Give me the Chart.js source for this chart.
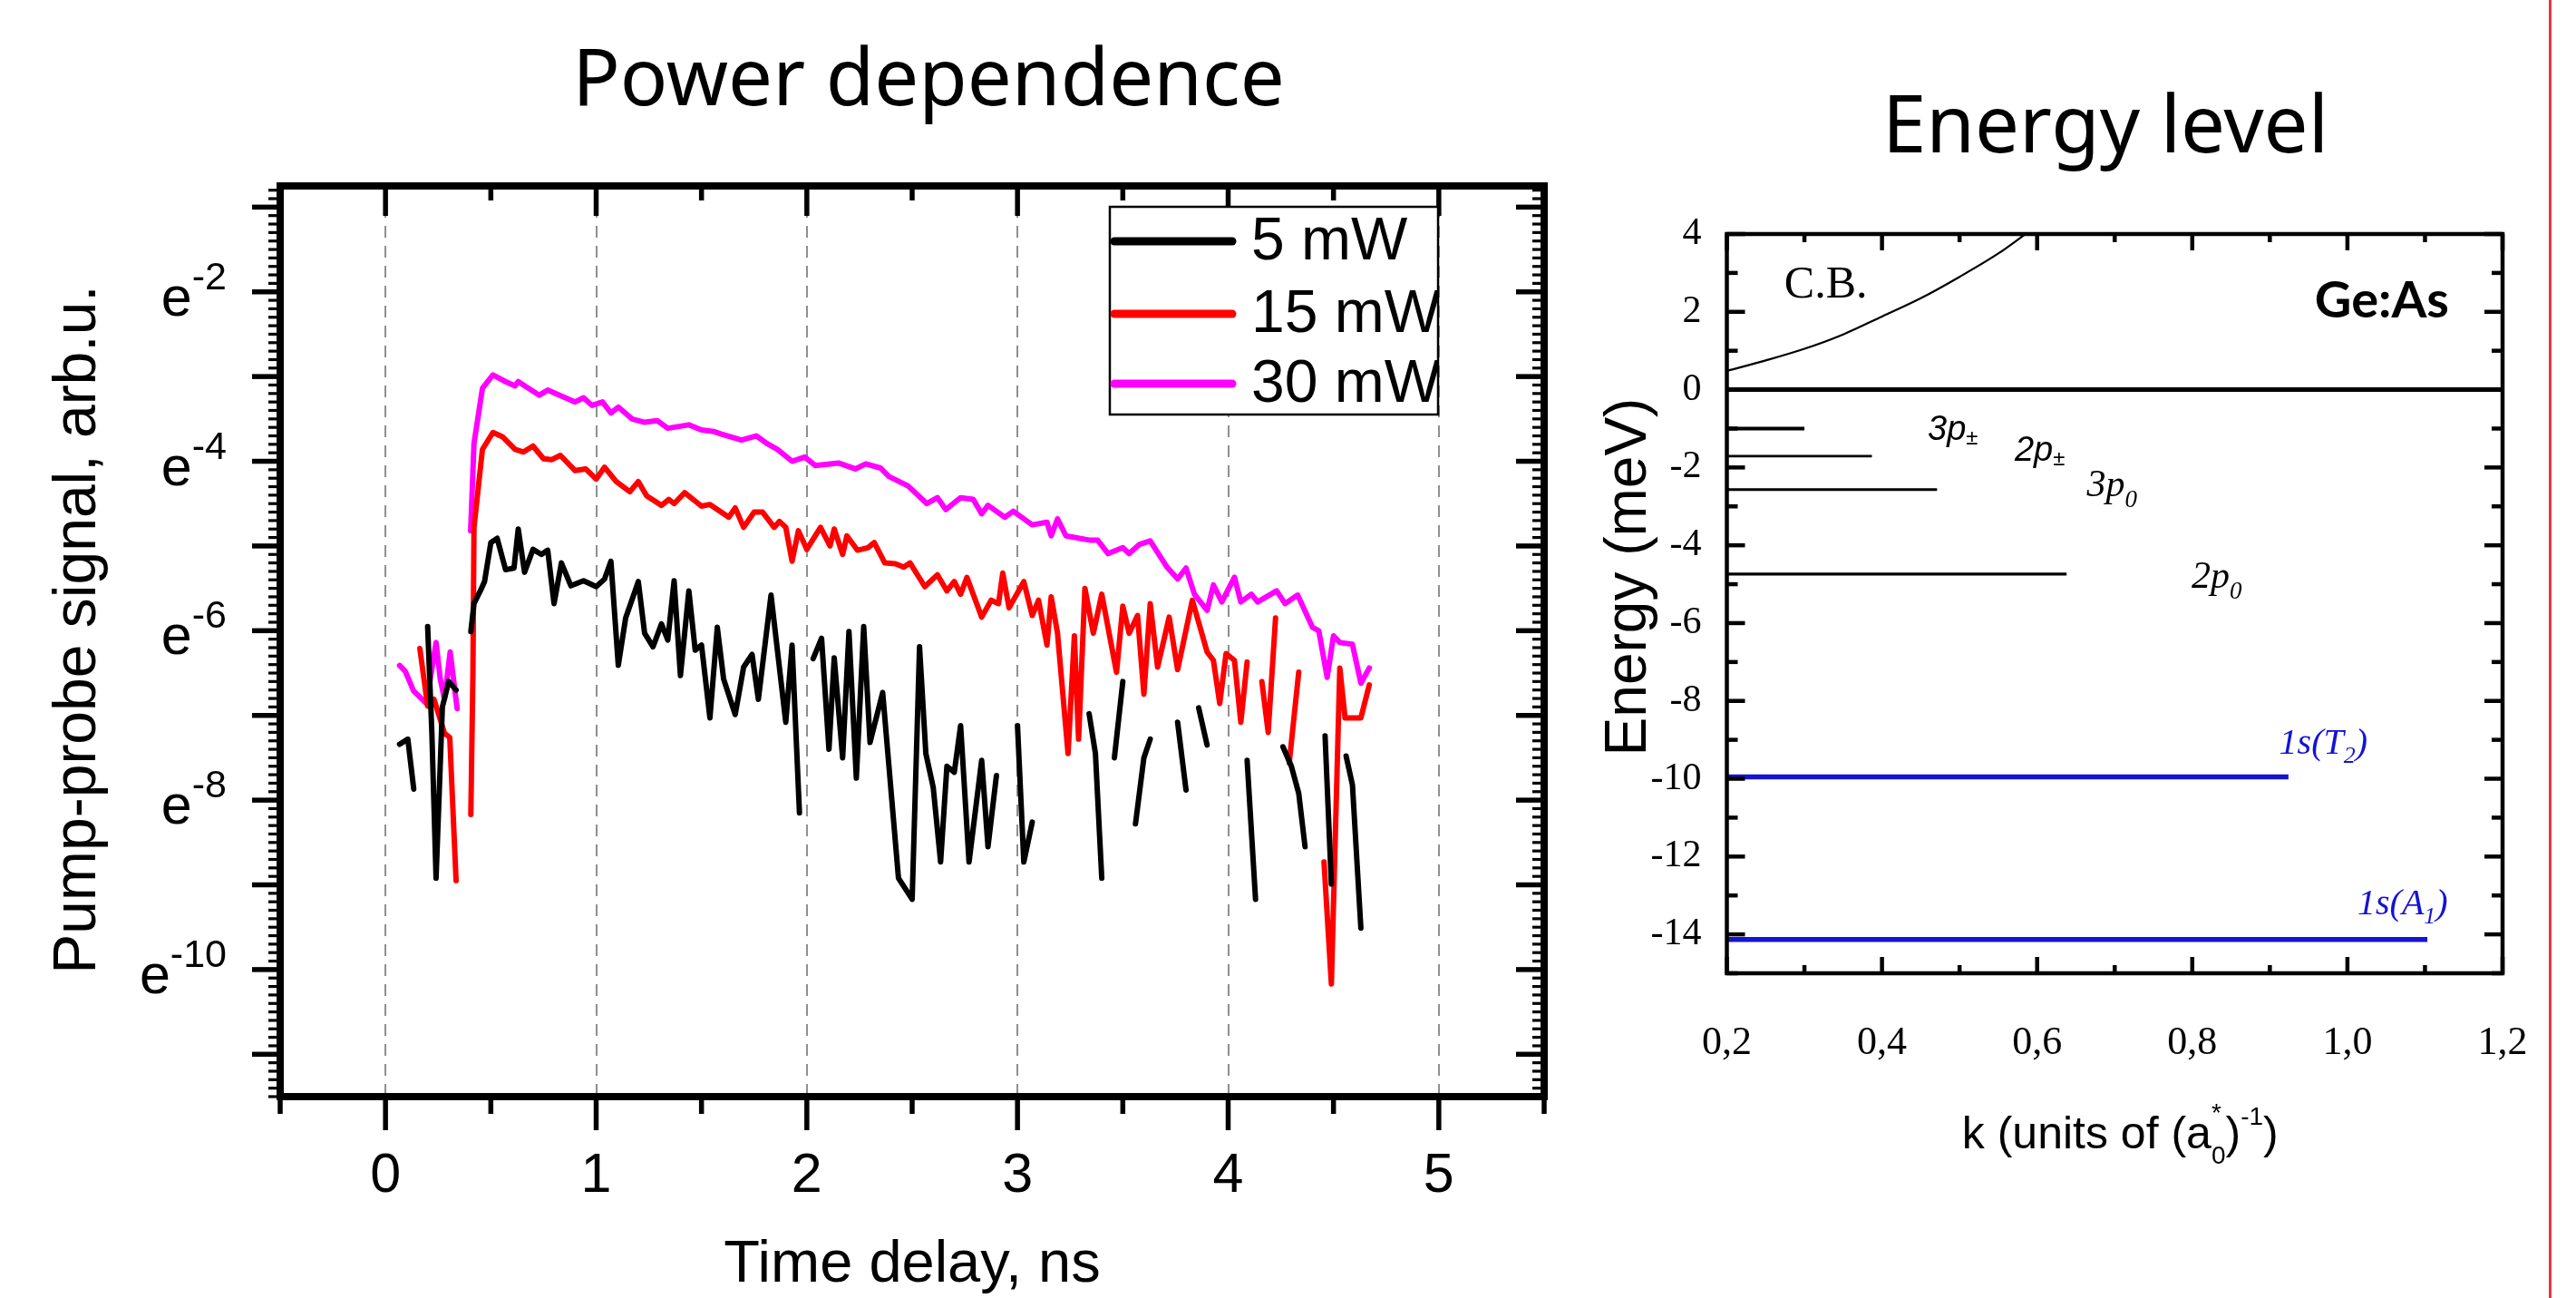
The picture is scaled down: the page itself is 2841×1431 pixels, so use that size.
<!DOCTYPE html>
<html>
<head>
<meta charset="utf-8">
<title>Power dependence / Energy level</title>
<script src="https://cdn.jsdelivr.net/npm/chart.js@4.4.1/dist/chart.umd.min.js"></script>
<style>
  html, body { margin: 0; padding: 0; background: #fff; }
  body { width: 2841px; height: 1431px; position: relative; overflow: hidden; }
  .ttl { position: absolute; font-family: "Noto Sans", "Open Sans", sans-serif; color: #000;
         white-space: nowrap; line-height: 1; transform: translateX(-50%); }
  #ppWrap { position: absolute; left: 0; top: 0; }
  #elWrap { position: absolute; left: 1760px; top: 0; }
  #edge { position: absolute; left: 2811px; top: 0; width: 3px; height: 1431px; background: #e8364a; }
</style>
</head>
<body>
<div class="ttl" style="left:1024px; top:39px; font-size:87px;">Power dependence</div>
<div class="ttl" style="left:2322px; top:91px; font-size:87px;">Energy level</div>
<div id="ppWrap"><canvas id="pp" width="1760" height="1431"></canvas></div>
<div id="elWrap"><canvas id="el" width="1052" height="1431"></canvas></div>
<div id="edge"></div>
<script>
// ---------- power dependence: ln(signal) vs time delay (ns), null = gap ----------
const powerLabels = ['5 mW', '15 mW', '30 mW'];
const timeTicks = [0, 1, 2, 3, 4, 5];
const lnTicks = [-10, -8, -6, -4, -2];

const t5 = [0.067, 0.106, 0.134, 0.17,
  0.20, 0.22, 0.24, 0.27, 0.30, 0.335, 0.37,
  0.405, 0.42, 0.45, 0.47, 0.50, 0.53, 0.57, 0.61, 0.63, 0.66, 0.70, 0.74, 0.77, 0.80, 0.835,
  0.88, 0.94, 1.0, 1.04, 1.07, 1.105, 1.14, 1.20, 1.23, 1.27, 1.31, 1.34, 1.37, 1.40, 1.44,
  1.47, 1.50, 1.54, 1.575, 1.605, 1.66, 1.70, 1.74, 1.77, 1.83, 1.90, 1.93, 1.965, 2.0,
  2.03, 2.07, 2.105, 2.13, 2.17, 2.20, 2.235, 2.27, 2.30, 2.36, 2.435, 2.50, 2.535, 2.565,
  2.60, 2.635, 2.665, 2.70, 2.73, 2.77, 2.83, 2.86, 2.90, 2.95,
  3.0, 3.03, 3.07, 3.2,
  3.34, 3.37, 3.40, 3.43,
  3.46, 3.50, 3.53,
  3.56, 3.60, 3.63, 3.7,
  3.76, 3.80, 3.83,
  3.86, 3.90, 4.0,
  4.09, 4.13, 4.2,
  4.26, 4.30, 4.335, 4.365, 4.41,
  4.46, 4.49, 4.52,
  4.56, 4.59, 4.63];
const ln5 = [-7.34, -7.28, -7.87, null,
  -5.95, -7.2, -8.92, -6.9, -6.6, -6.7, null,
  -6.01, -5.68, -5.53, -5.42, -4.96, -4.91, -5.28, -5.26, -4.80, -5.31, -5.04, -5.10, -5.05, -5.68, -5.20,
  -5.47, -5.41, -5.48, -5.39, -5.18, -6.41, -5.85, -5.42, -6.03, -6.19, -5.92, -6.11, -5.41, -6.53, -5.53,
  -6.23, -6.17, -7.03, -5.96, -6.57, -6.99, -6.43, -6.28, -6.81, -5.58, -7.08, -6.17, -8.15, null,
  -6.33, -6.09, -7.40, -6.32, -7.50, -6.01, -7.74, -5.95, -7.32, -6.73, -8.92, -9.17, -6.19, -7.45,
  -7.85, -8.73, -7.60, -7.67, -7.12, -8.73, -7.53, -8.55, -7.71, null,
  -7.12, -8.73, -8.26, null,
  -6.98, -7.45, -8.92, null,
  -7.50, -6.60, null,
  -8.28, -7.50, -7.28, null,
  -7.08, -7.88, null,
  -6.91, -7.35, null,
  -7.53, -9.17, null,
  -7.37, -7.60, -7.92, -8.55, null,
  -7.24, -8.99, null,
  -7.48, -7.82, -9.51];

const t15 = [0.163, 0.20, 0.23, 0.28, 0.305, 0.335, 0.37,
  0.405, 0.415, 0.42, 0.46, 0.51, 0.555, 0.615, 0.655, 0.70, 0.75, 0.79, 0.83, 0.90, 0.95, 1.0,
  1.04, 1.095, 1.16, 1.20, 1.24, 1.31, 1.345, 1.37, 1.42, 1.50, 1.54, 1.63, 1.66, 1.70, 1.75,
  1.79, 1.845, 1.87, 1.90, 1.93, 1.96, 2.0, 2.065, 2.11, 2.13, 2.17, 2.19, 2.24, 2.29, 2.32,
  2.37, 2.42, 2.46, 2.49, 2.56, 2.62, 2.665, 2.70, 2.73, 2.76, 2.83, 2.875, 2.91, 2.93, 2.96,
  3.03, 3.07, 3.10, 3.14, 3.16, 3.19, 3.24, 3.27, 3.29, 3.32, 3.36, 3.40, 3.47, 3.50, 3.53,
  3.57, 3.60, 3.63, 3.665, 3.72, 3.76, 3.83, 3.90, 3.93, 3.96, 3.99, 4.03, 4.06, 4.09, 4.12,
  4.16, 4.19, 4.225, 4.26,
  4.29, 4.335, 4.40,
  4.455, 4.49, 4.53, 4.555, 4.63, 4.67];
const ln15 = [-6.21, -6.89, -6.81, -7.21, -7.26, -8.95, null,
  -8.17, -6.5, -4.78, -3.86, -3.66, -3.71, -3.86, -3.89, -3.82, -3.97, -3.98, -3.93, -4.11, -4.09, -4.21,
  -4.07, -4.24, -4.36, -4.24, -4.41, -4.52, -4.45, -4.50, -4.37, -4.53, -4.51, -4.66, -4.55, -4.78, -4.60,
  -4.60, -4.78, -4.71, -4.78, -5.18, -4.82, -5.04, -4.78, -5.0, -4.80, -5.10, -4.88, -5.05, -5.02, -4.96,
  -5.20, -5.21, -5.25, -5.20, -5.48, -5.34, -5.53, -5.42, -5.57, -5.37, -5.84, -5.64, -5.68, -5.32, -5.73,
  -5.42, -5.82, -5.64, -6.17, -5.60, -6.03, -7.45, -6.06, -7.28, -5.50, -6.03, -5.57, -6.49, -5.71, -6.03,
  -5.82, -6.75, -5.68, -6.43, -5.84, -6.46, -5.64, -6.25, -6.35, -6.86, -6.27, -6.35, -7.08, -6.37, null,
  -6.6, -7.2, -5.85, null,
  -7.56, -6.49, null,
  -8.73, -10.17, -6.44, -7.03, -7.03, -6.64];

const t30 = [0.067, 0.094, 0.133, 0.194, 0.24, 0.26, 0.28, 0.307, 0.34, 0.37,
  0.404, 0.42, 0.46, 0.51, 0.57, 0.615, 0.63, 0.73, 0.77, 0.90, 0.94, 0.98, 1.03, 1.07, 1.105,
  1.17, 1.23, 1.29, 1.34, 1.44, 1.50, 1.56, 1.595, 1.69, 1.76, 1.81, 1.86, 1.93, 1.99, 2.04,
  2.15, 2.23, 2.28, 2.35, 2.39, 2.48, 2.57, 2.62, 2.66, 2.73, 2.79, 2.83, 2.86, 2.94, 2.98,
  3.07, 3.14, 3.16, 3.19, 3.23, 3.34, 3.38, 3.43, 3.50, 3.53, 3.58, 3.63, 3.71, 3.76, 3.80,
  3.84, 3.90, 3.93, 3.97, 4.03, 4.06, 4.11, 4.14, 4.23, 4.27, 4.33, 4.40, 4.43, 4.47, 4.50,
  4.53, 4.59, 4.63, 4.67];
const ln30 = [-6.41, -6.48, -6.71, -6.86, -6.14, -6.57, -6.81, -6.25, -6.92, null,
  -4.82, -3.79, -3.14, -2.98, -3.06, -3.11, -3.06, -3.22, -3.16, -3.30, -3.25, -3.34, -3.30, -3.43, -3.36,
  -3.50, -3.54, -3.52, -3.61, -3.57, -3.63, -3.65, -3.68, -3.75, -3.70, -3.79, -3.86, -4.00, -3.95, -4.05,
  -4.02, -4.09, -4.03, -4.08, -4.18, -4.29, -4.50, -4.43, -4.57, -4.43, -4.45, -4.62, -4.52, -4.66, -4.59,
  -4.75, -4.72, -4.88, -4.68, -4.88, -4.93, -4.93, -5.09, -5.02, -5.09, -4.98, -4.94, -5.25, -5.39, -5.26,
  -5.57, -5.76, -5.46, -5.66, -5.37, -5.66, -5.57, -5.66, -5.53, -5.68, -5.58, -5.96, -6.0, -6.55, -6.06,
  -6.14, -6.16, -6.62, -6.44];

// ---------- energy levels of Ge:As ----------
const kTicks = [0.2, 0.4, 0.6, 0.8, 1.0, 1.2];
const eTicks = [-14, -12, -10, -8, -6, -4, -2, 0, 2, 4];
const cbK = [0.2, 0.25, 0.3, 0.35, 0.4, 0.45, 0.5, 0.55, 0.585];
const cbE = [0.48, 0.75, 1.05, 1.42, 1.88, 2.35, 2.9, 3.5, 4.0];
const levelNames = ['0', '3p±', '2p±', '3p0', '2p0', '1s(T2)', '1s(A1)'];
const levelE = [0, -1.0, -1.71, -2.57, -4.74, -9.95, -14.13];
const levelKEnd = [1.2, 0.3, 0.387, 0.471, 0.638, 0.924, 1.103];

const SANS = '"Liberation Sans", Arial, sans-serif';
const SERIF = '"Liberation Serif", "Times New Roman", serif';
const pts = (xs, ys) => xs.map((x, i) => ({ x, y: ys[i] }));

// draws a run of text pieces (sub/superscripts), pieces with "over" share the previous x
function richText(ctx, x, y, runs, align) {
  const widths = runs.map(r => { ctx.font = r.f; return ctx.measureText(r.t).width; });
  let total = 0;
  runs.forEach((r, i) => { if (!r.over) total += widths[i]; });
  let cx = align === 'center' ? x - total / 2 : align === 'right' ? x - total : x;
  let lastX = cx;
  ctx.textAlign = 'left';
  ctx.textBaseline = 'alphabetic';
  runs.forEach((r, i) => {
    ctx.font = r.f;
    if (r.over) { ctx.fillText(r.t, lastX, y + (r.dy || 0)); return; }
    lastX = cx;
    ctx.fillText(r.t, cx, y + (r.dy || 0));
    cx += widths[i];
  });
}

function tick(ctx, x1, y1, x2, y2) {
  ctx.beginPath(); ctx.moveTo(x1, y1); ctx.lineTo(x2, y2); ctx.stroke();
}

function vTitle(ctx, text, font, x, y) {
  ctx.save();
  ctx.translate(x, y);
  ctx.rotate(-Math.PI / 2);
  ctx.font = font;
  ctx.fillStyle = '#000';
  ctx.textAlign = 'center';
  ctx.textBaseline = 'alphabetic';
  ctx.fillText(text, 0, 0);
  ctx.restore();
}

// keep the plot area where the layout padding puts it
const fixBox = (size, horizontal) => s => {
  if (horizontal) s.height = size; else s.width = size;
  s.paddingLeft = 0; s.paddingRight = 0; s.paddingTop = 0; s.paddingBottom = 0;
};

// frame + ticks for the pump-probe plot
const ppFrame = {
  id: 'ppFrame',
  afterDatasetsDraw(chart) {
    const { ctx, chartArea: a, scales: { x, y } } = chart;
    ctx.save();
    ctx.strokeStyle = '#000';
    for (let v = -0.5; v <= 5.5; v += 0.5) {
      const px = x.getPixelForValue(v);
      const major = Math.abs(v - Math.round(v)) < 1e-6;
      ctx.lineWidth = 5.5;
      tick(ctx, px, a.bottom, px, a.bottom + (major ? 37 : 19));
      tick(ctx, px, a.top, px, a.top + (major ? 33 : 16));
    }
    for (let i = -115; i <= -8; i++) {
      const v = i / 10;
      const py = y.getPixelForValue(v);
      const major = i % 10 === 0;
      ctx.lineWidth = major ? 5.5 : 3.2;
      tick(ctx, a.left, py, a.left - (major ? 31 : 13), py);
      tick(ctx, a.right, py, a.right - (major ? 31 : 13), py);
    }
    ctx.lineWidth = 8;
    ctx.strokeRect(a.left, a.top, a.right - a.left, a.bottom - a.top);
    ctx.restore();
  },
  afterDraw(chart) {
    const { ctx, chartArea: a, scales: { y } } = chart;
    ctx.save();
    ctx.fillStyle = '#000';
    // y tick labels e^n
    lnTicks.forEach(v => {
      const py = y.getPixelForValue(v);
      richText(ctx, a.left - 59, py, [
        { t: 'e', f: `61px ${SANS}`, dy: 26 },
        { t: String(v), f: `43px ${SANS}`, dy: -3 }
      ], 'right');
    });
    vTitle(ctx, 'Pump-probe signal, arb.u.', `66px ${SANS}`, 105, 694);
    // legend box
    const bx = 1224, by = 228, bw = 362, bh = 229;
    ctx.fillStyle = '#fff';
    ctx.fillRect(bx, by, bw, bh);
    ctx.strokeStyle = '#000';
    ctx.lineWidth = 2.5;
    ctx.strokeRect(bx, by, bw, bh);
    ctx.beginPath(); ctx.rect(bx, by, bw, bh); ctx.clip();
    const rows = [266, 346, 423];
    chart.data.datasets.forEach((ds, i) => {
      ctx.strokeStyle = ds.borderColor;
      ctx.lineWidth = 9;
      ctx.lineCap = 'round';
      tick(ctx, bx + 5, rows[i], bx + 135, rows[i]);
      ctx.fillStyle = '#000';
      ctx.font = `66px ${SANS}`;
      ctx.textAlign = 'left';
      ctx.textBaseline = 'middle';
      ctx.fillText(ds.label, bx + 156, rows[i] + 2);
    });
    ctx.restore();
  }
};

new Chart(document.getElementById('pp'), {
  type: 'line',
  data: {
    datasets: [
      { label: powerLabels[0], data: pts(t5, ln5), borderColor: '#000000' },
      { label: powerLabels[1], data: pts(t15, ln15), borderColor: '#ff0000' },
      { label: powerLabels[2], data: pts(t30, ln30), borderColor: '#ff00ff' }
    ]
  },
  options: {
    responsive: false,
    animation: false,
    events: [],
    spanGaps: false,
    layout: { padding: { top: 205, right: 57, bottom: 0, left: 0 } },
    elements: {
      point: { radius: 0 },
      line: { borderWidth: 6, tension: 0, borderJoinStyle: 'round', borderCapStyle: 'round' }
    },
    plugins: { legend: { display: false }, tooltip: { enabled: false } },
    scales: {
      x: {
        type: 'linear', min: -0.5, max: 5.5,
        afterBuildTicks: s => { s.ticks = timeTicks.map(v => ({ value: v })); },
        afterFit: fixBox(222, true),
        grid: { drawTicks: false, color: '#8f8f8f', lineWidth: 2 },
        border: { display: false, dash: [13, 9] },
        ticks: { padding: 58, color: '#000', font: { family: SANS, size: 61, lineHeight: 1 } },
        title: { display: true, text: 'Time delay, ns', color: '#000',
                 font: { family: SANS, size: 65, lineHeight: 1 }, padding: { top: 0, bottom: 3 } }
      },
      y: {
        type: 'linear', min: -11.5, max: -0.75,
        afterBuildTicks: s => { s.ticks = lnTicks.map(v => ({ value: v })); },
        afterFit: fixBox(309, false),
        grid: { display: false },
        border: { display: false },
        ticks: { display: false }
      }
    }
  },
  plugins: [ppFrame]
});

// frame, ticks and annotations for the energy level plot
const elFrame = {
  id: 'elFrame',
  afterDatasetsDraw(chart) {
    const { ctx, chartArea: a, scales: { x, y } } = chart;
    ctx.save();
    ctx.strokeStyle = '#000';
    ctx.lineWidth = 4.5;
    for (let i = 2; i <= 12; i++) {
      const px = x.getPixelForValue(i / 10);
      const len = i % 2 === 0 ? 18 : 9;
      tick(ctx, px, a.bottom, px, a.bottom - len);
      tick(ctx, px, a.top, px, a.top + len);
    }
    for (let v = -15; v <= 4; v++) {
      const py = y.getPixelForValue(v);
      const len = v % 2 === 0 ? 20 : 12;
      tick(ctx, a.left, py, a.left + len, py);
      tick(ctx, a.right, py, a.right - len, py);
    }
    ctx.strokeRect(a.left, a.top, a.right - a.left, a.bottom - a.top);

    const at = (k, e) => [x.getPixelForValue(k), y.getPixelForValue(e)];
    ctx.fillStyle = '#000';
    let p = at(0.274, 2.37);
    richText(ctx, p[0], p[1], [{ t: 'C.B.', f: `50px ${SERIF}` }], 'left');
    p = at(1.131, 1.86);
    richText(ctx, p[0], p[1], [{ t: 'Ge:As', f: `bold 56px Lato, "Open Sans", ${SANS}` }], 'right');
    p = at(0.459, -1.29);
    richText(ctx, p[0], p[1], [{ t: '3p', f: `italic 38px ${SANS}` }, { t: '±', f: `italic 24px ${SANS}`, dy: 5 }], 'left');
    p = at(0.571, -1.83);
    richText(ctx, p[0], p[1], [{ t: '2p', f: `italic 38px ${SANS}` }, { t: '±', f: `italic 24px ${SANS}`, dy: 5 }], 'left');
    p = at(0.664, -2.74);
    richText(ctx, p[0], p[1], [{ t: '3p', f: `italic 42px ${SERIF}` }, { t: '0', f: `italic 27px ${SERIF}`, dy: 12 }], 'left');
    p = at(0.799, -5.09);
    richText(ctx, p[0], p[1], [{ t: '2p', f: `italic 42px ${SERIF}` }, { t: '0', f: `italic 27px ${SERIF}`, dy: 12 }], 'left');
    ctx.fillStyle = '#1414d2';
    p = at(0.912, -9.36);
    richText(ctx, p[0], p[1], [{ t: '1s(T', f: `italic 40px ${SERIF}` }, { t: '2', f: `italic 26px ${SERIF}`, dy: 10 }, { t: ')', f: `italic 40px ${SERIF}` }], 'left');
    p = at(1.013, -13.48);
    richText(ctx, p[0], p[1], [{ t: '1s(A', f: `italic 40px ${SERIF}` }, { t: '1', f: `italic 26px ${SERIF}`, dy: 10 }, { t: ')', f: `italic 40px ${SERIF}` }], 'left');

    // axis titles
    ctx.fillStyle = '#000';
    richText(ctx, (a.left + a.right) / 2 + 6, a.bottom + 193, [
      { t: 'k (units of (a', f: `50px ${SANS}` },
      { t: '0', f: `28px ${SANS}`, dy: 17 },
      { t: '*', f: `28px ${SANS}`, dy: -30, over: true },
      { t: ')', f: `50px ${SANS}` },
      { t: '-1', f: `28px ${SANS}`, dy: -26 },
      { t: ')', f: `50px ${SANS}` }
    ], 'center');
    vTitle(ctx, 'Energy (meV)', `64px ${SANS}`, 55, 636);
    ctx.restore();
  }
};

const levelStyle = [
  { c: '#000', w: 5 }, { c: '#000', w: 4 }, { c: '#000', w: 2.7 }, { c: '#000', w: 3 },
  { c: '#000', w: 3.3 }, { c: '#1414d2', w: 5.5 }, { c: '#1414d2', w: 5.5 }
];

new Chart(document.getElementById('el'), {
  type: 'line',
  data: {
    datasets: [
      { label: 'C.B.', data: pts(cbK, cbE), borderColor: '#000', borderWidth: 2.2,
        tension: 0.4, cubicInterpolationMode: 'monotone' },
      ...levelE.map((e, i) => ({
        label: levelNames[i],
        data: [{ x: kTicks[0], y: e }, { x: levelKEnd[i], y: e }],
        borderColor: levelStyle[i].c, borderWidth: levelStyle[i].w
      }))
    ]
  },
  options: {
    responsive: false,
    animation: false,
    events: [],
    layout: { padding: { top: 258, right: 52, bottom: 0, left: 0 } },
    elements: { point: { radius: 0 }, line: { borderCapStyle: 'butt' } },
    plugins: { legend: { display: false }, tooltip: { enabled: false } },
    scales: {
      x: {
        type: 'linear', min: 0.2, max: 1.2,
        afterBuildTicks: s => { s.ticks = kTicks.map(v => ({ value: v })); },
        afterFit: fixBox(358, true),
        grid: { display: false },
        border: { display: false },
        ticks: { padding: 47, color: '#000', font: { family: SERIF, size: 44, lineHeight: 1 },
                 maxRotation: 0, autoSkip: false,
                 callback: v => v.toFixed(1).replace('.', ',') }
      },
      y: {
        type: 'linear', min: -15, max: 4,
        afterBuildTicks: s => { s.ticks = eTicks.map(v => ({ value: v })); },
        afterFit: fixBox(144.5, false),
        grid: { display: false },
        border: { display: false },
        ticks: { padding: 20, color: '#000', font: { family: SERIF, size: 42, lineHeight: 1 },
                 callback: v => String(v) }
      }
    }
  },
  plugins: [elFrame]
});
</script>
</body>
</html>
